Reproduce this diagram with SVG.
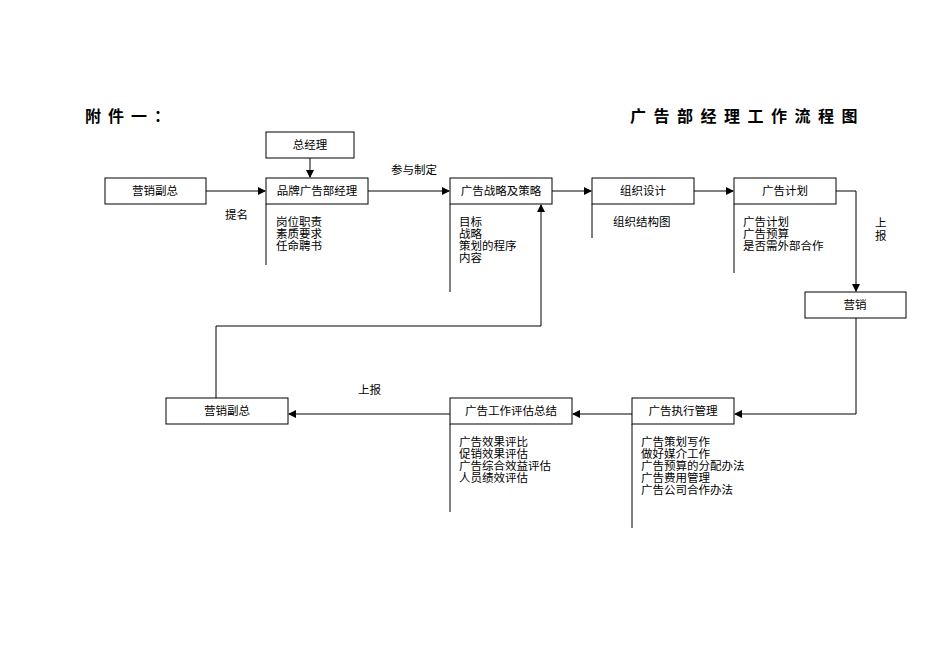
<svg xmlns="http://www.w3.org/2000/svg" width="950" height="672" viewBox="0 0 950 672">
<style>
text{font-family:"Liberation Serif","Noto Sans CJK SC",serif;font-size:11.5px;fill:#000}
.b{fill:#fff;stroke:#000;stroke-width:1}
.l{fill:none;stroke:#000;stroke-width:1}
.t{font-size:16px;font-weight:bold;font-family:"Liberation Sans","Noto Sans CJK SC",sans-serif}
.c{text-anchor:middle}
</style>
<defs><marker id="a" markerWidth="8" markerHeight="8" refX="7" refY="4" orient="auto" markerUnits="userSpaceOnUse"><path d="M0,0L8,4L0,8z" fill="#000"/></marker></defs>
<rect width="950" height="672" fill="#fff"/>
<text class="t" x="85" y="122" letter-spacing="7">附件一：</text>
<text class="t" x="630" y="122" letter-spacing="7.5">广告部经理工作流程图</text>
<g id="connectors">
<path class="l" d="M206,191H265" marker-end="url(#a)"/>
<path class="l" d="M310,158V177" marker-end="url(#a)"/>
<path class="l" d="M368,191H449" marker-end="url(#a)"/>
<path class="l" d="M552,191H591" marker-end="url(#a)"/>
<path class="l" d="M694,191H733" marker-end="url(#a)"/>
<path class="l" d="M836,191H856V291" marker-end="url(#a)"/>
<path class="l" d="M856,318V414H735" marker-end="url(#a)"/>
<path class="l" d="M632,414H573" marker-end="url(#a)"/>
<path class="l" d="M450,414H289" marker-end="url(#a)"/>
<path class="l" d="M216,398V326H541V205" marker-end="url(#a)"/>
<path class="l" d="M266,204V265M450,204V292M592,204V238M734,204V273M632,424V528M450,424V512"/>
</g>
<text x="225" y="219">提名</text>
<text x="391" y="174">参与制定</text>
<text x="875" y="227">上</text>
<text x="875" y="240">报</text>
<text x="358" y="394">上报</text>
<g id="n1"><rect class="b" x="105" y="178" width="101" height="26"/><text class="c" x="155" y="195">营销副总</text></g>
<g id="n2"><rect class="b" x="266" y="132" width="88" height="26"/><text class="c" x="310" y="149">总经理</text></g>
<g id="n3"><rect class="b" x="266" y="178" width="102" height="26"/><text class="c" x="317" y="195">品牌广告部经理</text>
<text x="276" y="226">岗位职责</text><text x="276" y="238">素质要求</text><text x="276" y="250">任命聘书</text></g>
<g id="n4"><rect class="b" x="450" y="178" width="102" height="26"/><text class="c" x="501" y="195">广告战略及策略</text>
<text x="459" y="226">目标</text><text x="459" y="238">战略</text><text x="459" y="250">策划的程序</text><text x="459" y="262">内容</text></g>
<g id="n5"><rect class="b" x="592" y="178" width="102" height="26"/><text class="c" x="643" y="195">组织设计</text>
<text x="613" y="226">组织结构图</text></g>
<g id="n6"><rect class="b" x="734" y="178" width="102" height="26"/><text class="c" x="785" y="195">广告计划</text>
<text x="743" y="226">广告计划</text><text x="743" y="238">广告预算</text><text x="743" y="250">是否需外部合作</text></g>
<g id="n7"><rect class="b" x="805" y="292" width="101" height="26"/><text class="c" x="855" y="309">营销</text></g>
<g id="n8"><rect class="b" x="632" y="398" width="102" height="26"/><text class="c" x="683" y="415">广告执行管理</text>
<text x="641" y="446">广告策划写作</text><text x="641" y="458">做好媒介工作</text><text x="641" y="470">广告预算的分配办法</text><text x="641" y="482">广告费用管理</text><text x="641" y="494">广告公司合作办法</text></g>
<g id="n9"><rect class="b" x="450" y="398" width="122" height="26"/><text class="c" x="511" y="415">广告工作评估总结</text>
<text x="459" y="446">广告效果评比</text><text x="459" y="458">促销效果评估</text><text x="459" y="470">广告综合效益评估</text><text x="459" y="482">人员绩效评估</text></g>
<g id="n10"><rect class="b" x="166" y="398" width="122" height="26"/><text class="c" x="227" y="415">营销副总</text></g>
</svg>
